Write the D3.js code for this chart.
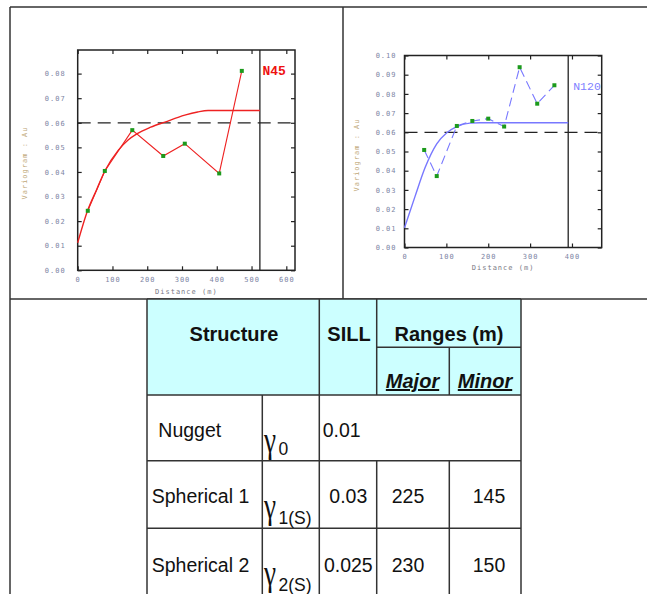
<!DOCTYPE html>
<html>
<head>
<meta charset="utf-8">
<script src="https://cdn.jsdelivr.net/npm/d3@7"></script>
<style>
  body { margin: 0; background: #fff; }
  svg { display: block; }
</style>
</head>
<body>
<svg id="surface" width="647" height="594"></svg>
<script>
// experimental variogram, direction N45
const n45Dist = [29, 78, 157, 246, 308, 407, 472];
const n45Gamma = [0.0242, 0.0404, 0.0570, 0.0465, 0.0515, 0.0394, 0.0811];
// fitted model, N45
const n45ModelDist = [0, 29, 55, 78, 117, 145, 170, 210, 251, 308, 345, 375, 524];
const n45ModelGamma = [0.0112, 0.0245, 0.0330, 0.0404, 0.0489, 0.0530, 0.0555, 0.0582, 0.0603, 0.0631, 0.0644, 0.0650, 0.0650];

// experimental variogram, direction N120
const n120Dist = [47, 77, 125, 162, 200, 238, 275, 317, 358];
const n120Gamma = [0.0508, 0.0372, 0.0633, 0.0659, 0.0671, 0.0630, 0.0939, 0.0749, 0.0845];
// fitted model, N120
const n120ModelDist = [0, 25, 49, 77, 101, 125, 156, 180, 391];
const n120ModelGamma = [0.0103, 0.0265, 0.0415, 0.0540, 0.0598, 0.0630, 0.0648, 0.0650, 0.0650];

const sillLine = 0.06;
const n45Ticks = [0, 100, 200, 300, 400, 500, 600];
const n120Ticks = [0, 100, 200, 300, 400];

// table contents
const structNames = ["Nugget", "Spherical 1", "Spherical 2"];
const gammaSubs = ["0", "1(S)", "2(S)"];
const sills = ["0.01", "0.03", "0.025"];
const majorRanges = ["", "225", "230"];
const minorRanges = ["", "145", "150"];

const svg = d3.select("#surface");
const monoFont = "'DejaVu Sans Mono', monospace";
const sansFont = "'Liberation Sans', Arial, sans-serif";

// page frame
const frame = svg.append("g").attr("stroke", "#333").attr("stroke-width", 1.5);
frame.append("line").attr("x1", 10).attr("y1", 7).attr("x2", 647).attr("y2", 7);
frame.append("line").attr("x1", 10).attr("y1", 7).attr("x2", 10).attr("y2", 594);
frame.append("line").attr("x1", 343).attr("y1", 7).attr("x2", 343).attr("y2", 299);
frame.append("line").attr("x1", 10).attr("y1", 299).attr("x2", 647).attr("y2", 299);

function drawVariogram(opt) {
  const x = d3.scaleLinear().domain(opt.xDomain).range(opt.xRange);
  const y = d3.scaleLinear().domain(opt.yDomain).range(opt.yRange);
  const g = svg.append("g");
  const [x0, x1] = opt.xRange;
  const [y0, y1] = opt.yRange;

  const tickStyle = (sel, labels) => {
    sel.select(".domain").remove();
    sel.selectAll(".tick line").attr("stroke", "#222").attr("stroke-width", 1.2);
    sel.selectAll("text")
      .attr("font-family", monoFont)
      .attr("font-size", 7)
      .attr("letter-spacing", 1)
      .attr("fill", "#7d84a4");
    if (!labels) sel.selectAll("text").remove();
  };

  g.append("g").attr("transform", `translate(0,${y0})`)
    .call(d3.axisBottom(x).tickValues(opt.xTicks).tickSizeInner(-4).tickSizeOuter(0).tickPadding(7).tickFormat(d3.format("d")))
    .call(s => tickStyle(s, true));
  g.append("g").attr("transform", `translate(0,${y1})`)
    .call(d3.axisTop(x).tickValues(opt.xTicks).tickSizeInner(-4).tickSizeOuter(0))
    .call(s => tickStyle(s, false));
  g.append("g").attr("transform", `translate(${x0},0)`)
    .call(d3.axisLeft(y).ticks(opt.yTickCount).tickSizeInner(-4).tickSizeOuter(0).tickPadding(opt.yPad).tickFormat(d3.format(".2f")))
    .call(s => tickStyle(s, true));
  g.append("g").attr("transform", `translate(${x1},0)`)
    .call(d3.axisRight(y).ticks(opt.yTickCount).tickSizeInner(-4).tickSizeOuter(0))
    .call(s => tickStyle(s, false));

  // plot box
  g.append("rect")
    .attr("x", x0).attr("y", y1)
    .attr("width", x1 - x0).attr("height", y0 - y1)
    .attr("fill", "none").attr("stroke", "#222").attr("stroke-width", 1.5);

  // max distance marker
  g.append("line")
    .attr("x1", x(opt.maxDist)).attr("x2", x(opt.maxDist))
    .attr("y1", y0).attr("y2", y1)
    .attr("stroke", "#222").attr("stroke-width", 1.3);

  // sill
  g.append("line")
    .attr("x1", x0).attr("x2", x1)
    .attr("y1", y(sillLine)).attr("y2", y(sillLine))
    .attr("stroke", "#222").attr("stroke-width", 1.3)
    .attr("stroke-dasharray", "13,7");

  // model curve
  const modelPts = opt.modelDist.map((d, i) => [d, opt.modelGamma[i]]);
  g.append("path")
    .datum(modelPts)
    .attr("fill", "none")
    .attr("stroke", opt.color).attr("stroke-width", 1.4)
    .attr("d", d3.line().x(d => x(d[0])).y(d => y(d[1])).curve(d3.curveMonotoneX));

  // experimental
  const expPts = opt.dist.map((d, i) => [d, opt.gamma[i]]);
  g.append("path")
    .datum(expPts)
    .attr("fill", "none")
    .attr("stroke", opt.color).attr("stroke-width", 1.1)
    .attr("stroke-dasharray", opt.dash)
    .attr("d", d3.line().x(d => x(d[0])).y(d => y(d[1])));
  g.selectAll(".pt").data(expPts).enter().append("rect")
    .attr("class", "pt")
    .attr("x", d => x(d[0]) - 2).attr("y", d => y(d[1]) - 2)
    .attr("width", 4).attr("height", 4)
    .attr("fill", "#1c9a1c");

  // titles
  g.append("text")
    .attr("x", (x0 + x1) / 2).attr("y", opt.xTitleY)
    .attr("text-anchor", "middle")
    .attr("font-family", monoFont).attr("font-size", 7).attr("letter-spacing", 1)
    .attr("fill", "#7a7a86")
    .text("Distance (m)");
  g.append("text")
    .attr("transform", `translate(${opt.yTitleX},${opt.yTitleY}) rotate(-90)`)
    .attr("text-anchor", "middle")
    .attr("font-family", monoFont).attr("font-size", 7).attr("letter-spacing", 1)
    .attr("fill", "#c0a878")
    .text("Variogram : Au");

  g.append("text")
    .attr("x", x(opt.maxDist) + opt.labelDx).attr("y", opt.labelY)
    .attr("font-family", "'Liberation Mono', 'DejaVu Sans Mono', monospace")
    .attr("font-size", opt.labelSize)
    .attr("font-weight", opt.labelWeight)
    .attr("fill", opt.labelColor)
    .text(opt.label);
}

drawVariogram({
  dist: n45Dist, gamma: n45Gamma,
  modelDist: n45ModelDist, modelGamma: n45ModelGamma,
  xDomain: [0, 625], xRange: [77.7, 295],
  yDomain: [0, 0.0896], yRange: [270.3, 50],
  xTicks: n45Ticks, yTickCount: 8, yPad: 12,
  maxDist: 524, color: "#ee2222", dash: null,
  xTitleY: 294, yTitleX: 27, yTitleY: 163,
  label: "N45", labelColor: "#ee1111", labelSize: 13, labelWeight: "bold", labelDx: 2.5, labelY: 74.5
});

drawVariogram({
  dist: n120Dist, gamma: n120Gamma,
  modelDist: n120ModelDist, modelGamma: n120ModelGamma,
  xDomain: [0, 471], xRange: [404.5, 601.7],
  yDomain: [0, 0.10], yRange: [247.5, 55.5],
  xTicks: n120Ticks, yTickCount: 10, yPad: 8,
  maxDist: 391, color: "#7878ff", dash: "9,5",
  xTitleY: 270, yTitleX: 359, yTitleY: 155,
  label: "N120", labelColor: "#8080ff", labelSize: 11.5, labelWeight: "normal", labelDx: 5, labelY: 89.5
});

// ---- structure table ----
const colX = [147, 262.3, 319.3, 376.7, 449.3, 521];
const headTop = 299, headMid = 347.3, headBottom = 395;
const rowTops = [395, 460.7, 528.3];
const rowBottom = [460.7, 528.3, 600];

const tbl = svg.append("g");
tbl.append("rect")
  .attr("x", colX[0]).attr("y", headTop)
  .attr("width", colX[5] - colX[0]).attr("height", headBottom - headTop)
  .attr("fill", "#ccffff");

const tline = (x1, y1, x2, y2) => tbl.append("line")
  .attr("x1", x1).attr("y1", y1).attr("x2", x2).attr("y2", y2)
  .attr("stroke", "#333").attr("stroke-width", 1.5);

// horizontal rules
tline(colX[0], headTop, colX[5], headTop);
tline(colX[3], headMid, colX[5], headMid);
tline(colX[0], headBottom, colX[5], headBottom);
rowBottom.slice(0, 2).forEach(yb => tline(colX[0], yb, colX[5], yb));
// vertical rules
tline(colX[0], headTop, colX[0], 594);
tline(colX[5], headTop, colX[5], 594);
tline(colX[1], headBottom, colX[1], 594);
tline(colX[2], headTop, colX[2], 594);
tline(colX[3], headTop, colX[3], headBottom);
tline(colX[4], headMid, colX[4], headBottom);
tline(colX[3], rowTops[1], colX[3], 594);
tline(colX[4], rowTops[1], colX[4], 594);

const txt = (x, y, s, o = {}) => tbl.append("text")
  .attr("x", x).attr("y", y)
  .attr("text-anchor", o.anchor || "start")
  .attr("font-family", o.family || sansFont)
  .attr("font-size", o.size || 19.5)
  .attr("font-weight", o.bold ? "bold" : "normal")
  .attr("font-style", o.italic ? "italic" : "normal")
  .attr("text-decoration", o.underline ? "underline" : "none")
  .attr("fill", "#111")
  .text(s);

txt(234, 341, "Structure", { anchor: "middle", bold: true, size: 20 });
txt(349, 341, "SILL", { anchor: "middle", bold: true, size: 20 });
txt(449, 341, "Ranges (m)", { anchor: "middle", bold: true, size: 20 });
txt(412.5, 388, "Major", { anchor: "middle", bold: true, italic: true, underline: true, size: 20 });
txt(485, 388, "Minor", { anchor: "middle", bold: true, italic: true, underline: true, size: 20 });

const baseDy = [42, 42.3, 43.4];
const nameX = [158.3, 151.7, 151.7];
structNames.forEach((name, i) => {
  const yb = rowTops[i] + baseDy[i];
  txt(nameX[i], yb, name);
  // gamma symbol with subscript
  tbl.append("text")
    .attr("transform", `translate(264,${rowTops[i] + 57}) scale(0.85,1.15)`)
    .attr("font-family", "'Liberation Serif', 'Times New Roman', serif").attr("font-size", 32)
    .attr("fill", "#111")
    .text("γ");
  txt(278.5, rowTops[i] + (i === 0 ? 59.5 : 63), gammaSubs[i], { size: 17.5 });
  if (i === 0) {
    txt(322.7, yb, sills[i]);
  } else {
    txt(348.3, yb, sills[i], { anchor: "middle" });
    txt(408, yb, majorRanges[i], { anchor: "middle" });
    txt(489, yb, minorRanges[i], { anchor: "middle" });
  }
});
</script>
</body>
</html>
